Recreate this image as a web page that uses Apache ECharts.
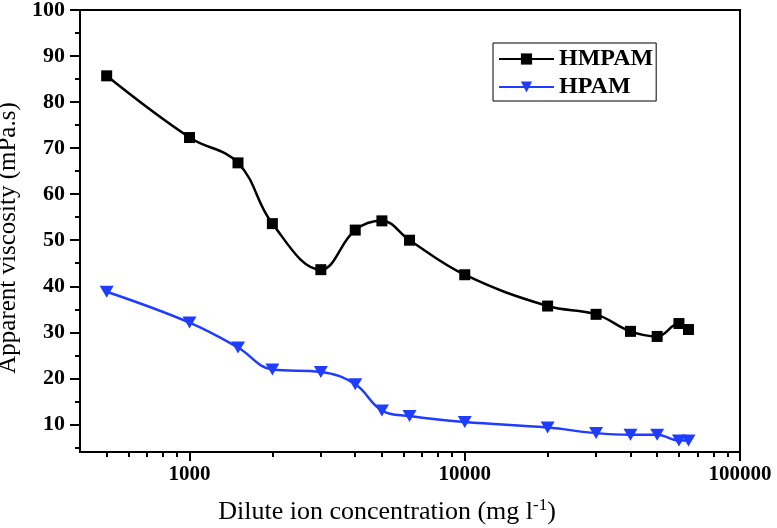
<!DOCTYPE html>
<html><head><meta charset="utf-8">
<script src="https://cdn.jsdelivr.net/npm/echarts@6/dist/echarts.min.js"></script>
<style>html,body{margin:0;padding:0;background:#fff}#c{width:777px;height:528px}</style>
</head><body><div id="c"></div>
<script>
const hmpamX = [500, 1000, 1500, 2000, 3000, 4000, 5000, 6300, 10000, 20000, 30000, 40000, 50000, 60000, 65000];
const hmpamY = [85.7, 72.3, 66.8, 53.6, 43.6, 52.2, 54.2, 50.0, 42.5, 35.7, 33.9, 30.2, 29.1, 31.9, 30.6];
const hpamX = [500, 1000, 1500, 2000, 3000, 4000, 5000, 6300, 10000, 20000, 30000, 40000, 50000, 60000, 65000];
const hpamY = [38.8, 32.1, 26.7, 21.9, 21.4, 18.7, 13.0, 11.8, 10.5, 9.3, 8.1, 7.75, 7.75, 6.5, 6.5];
const xMajorTicks = [1000, 10000, 100000];
const xMinorTicks = [500, 600, 700, 800, 900, 2000, 3000, 4000, 5000, 6000, 7000, 8000, 9000, 20000, 30000, 40000, 50000, 60000, 70000, 80000, 90000];
const yMajorTicks = [10, 20, 30, 40, 50, 60, 70, 80, 90, 100];
const yMinorTicks = [5, 15, 25, 35, 45, 55, 65, 75, 85, 95];

const serif = '"Liberation Serif", "DejaVu Serif", serif';
const pair = (xs, ys) => xs.map((x, i) => [x, ys[i]]);

const chart = echarts.init(document.getElementById('c'));
const xBase = {type: 'log', logBase: 10, min: 400, max: 100000, gridIndex: 0};
const yBase = {type: 'value', min: 4, max: 100, gridIndex: 0};
chart.setOption({
  animation: false,
  grid: {left: 80, top: 10, right: 37, bottom: 76, show: true, borderColor: '#000', borderWidth: 2,
    backgroundColor: 'transparent', containLabel: false, outerBoundsMode: 'none'},
  legend: {
    left: 493, top: 43, orient: 'vertical',
    borderColor: '#000', borderWidth: 1, padding: [4, 3, 2, 5],
    itemWidth: 55, itemHeight: 14, itemGap: 4,
    textStyle: {fontFamily: serif, fontWeight: 'bold', fontSize: 24, color: '#000', lineHeight: 23},
    data: ['HMPAM', 'HPAM']
  },
  xAxis: [
    Object.assign({}, xBase, {
      position: 'bottom',
      name: 'Dilute ion concentration (mg l{sup|-1})',
      nameLocation: 'middle', nameGap: 45,
      nameTextStyle: {fontFamily: serif, fontSize: 26, color: '#000', padding: [0, 46, 0, 0],
        rich: {sup: {fontFamily: serif, fontSize: 17, color: '#000', verticalAlign: 'top', padding: [0, 0, 14, 0]}}},
      axisLine: {show: true, lineStyle: {color: '#000', width: 2}},
      axisTick: {show: true, inside: false, length: 9, lineStyle: {color: '#000', width: 2}, customValues: xMajorTicks},
      axisLabel: {show: true, margin: 12, fontFamily: serif, fontWeight: 'bold', fontSize: 21, color: '#000',
        customValues: xMajorTicks, formatter: v => String(Math.round(v))},
      splitLine: {show: false}
    }),
    Object.assign({}, xBase, {
      position: 'bottom',
      axisLine: {show: false},
      axisTick: {show: true, length: 5, lineStyle: {color: '#000', width: 2}, customValues: xMinorTicks},
      axisLabel: {show: false},
      splitLine: {show: false}
    })
  ],
  yAxis: [
    Object.assign({}, yBase, {
      position: 'left',
      name: 'Apparent viscosity (mPa.s)',
      nameLocation: 'middle', nameGap: 44,
      nameTextStyle: {fontFamily: serif, fontSize: 25, color: '#000', padding: [0, 14, 0, 0]},
      axisLine: {show: true, lineStyle: {color: '#000', width: 2}},
      axisTick: {show: true, length: 10, lineStyle: {color: '#000', width: 2}, customValues: yMajorTicks},
      axisLabel: {show: true, margin: 15, fontFamily: serif, fontWeight: 'bold', fontSize: 22, color: '#000', customValues: yMajorTicks},
      splitLine: {show: false}
    }),
    Object.assign({}, yBase, {
      position: 'left',
      axisLine: {show: false},
      axisTick: {show: true, length: 5, lineStyle: {color: '#000', width: 2}, customValues: yMinorTicks},
      axisLabel: {show: false},
      splitLine: {show: false}
    })
  ],
  series: [
    {
      name: 'HMPAM', type: 'line', xAxisIndex: 0, yAxisIndex: 0,
      data: pair(hmpamX, hmpamY), smooth: 0.4,
      symbol: 'rect', symbolSize: 11,
      lineStyle: {color: '#000', width: 2.5}, itemStyle: {color: '#000'}
    },
    {
      name: 'HPAM', type: 'line', xAxisIndex: 0, yAxisIndex: 0,
      data: pair(hpamX, hpamY), smooth: 0.4,
      symbol: 'triangle', symbolRotate: 180, symbolSize: [14, 12],
      lineStyle: {color: '#1f3cff', width: 2.5}, itemStyle: {color: '#1f3cff'}
    }
  ]
});
</script>
</body></html>
